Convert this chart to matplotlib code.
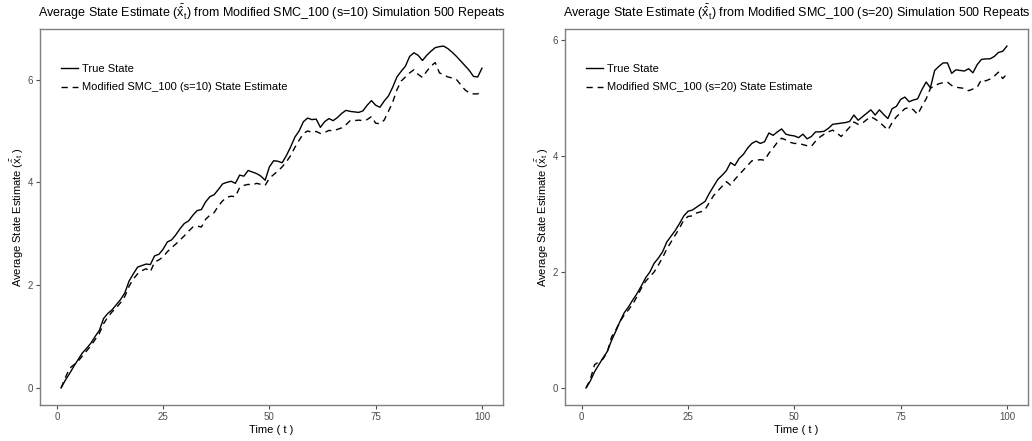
import numpy as np
import matplotlib
matplotlib.use('Agg')
from matplotlib import pyplot as plt

plt.rcParams['font.family'] = ['Liberation Sans', 'DejaVu Sans']
plt.rcParams['mathtext.fontset'] = 'custom'
plt.rcParams['mathtext.rm'] = 'Liberation Sans'
plt.rcParams['mathtext.it'] = 'Liberation Sans'

t = list(range(1, 101))

true_s10 = [0.00, 0.15, 0.28, 0.42, 0.55, 0.68, 0.77, 0.87, 1.00, 1.12,
            1.35, 1.45, 1.52, 1.62, 1.72, 1.85, 2.08, 2.22, 2.35, 2.38,
            2.41, 2.40, 2.57, 2.60, 2.70, 2.84, 2.88, 2.98, 3.10, 3.20,
            3.25, 3.36, 3.45, 3.47, 3.62, 3.72, 3.76, 3.86, 3.97, 4.00,
            4.02, 3.98, 4.14, 4.12, 4.23, 4.20, 4.17, 4.12, 4.04, 4.30,
            4.42, 4.41, 4.38, 4.52, 4.69, 4.88, 5.00, 5.18, 5.25, 5.22,
            5.23, 5.07, 5.18, 5.24, 5.20, 5.26, 5.34, 5.40, 5.38, 5.37,
            5.36, 5.39, 5.50, 5.59, 5.50, 5.46, 5.58, 5.68, 5.85, 6.05,
            6.16, 6.26, 6.45, 6.52, 6.47, 6.37, 6.47, 6.55, 6.62, 6.64,
            6.65, 6.60, 6.53, 6.45, 6.36, 6.27, 6.18, 6.06, 6.05, 6.22]

est_s10 = [0.00, 0.20, 0.38, 0.45, 0.52, 0.62, 0.72, 0.82, 0.94, 1.06,
           1.25, 1.38, 1.48, 1.56, 1.66, 1.78, 1.98, 2.12, 2.22, 2.28,
           2.32, 2.26, 2.45, 2.49, 2.55, 2.65, 2.73, 2.80, 2.88, 2.96,
           3.05, 3.13, 3.15, 3.13, 3.28, 3.36, 3.41, 3.54, 3.64, 3.71,
           3.73, 3.72, 3.90, 3.94, 3.96, 3.95, 3.98, 3.96, 3.94, 4.08,
           4.15, 4.22, 4.30, 4.40, 4.52, 4.68, 4.82, 4.95, 5.00, 4.97,
           4.99, 4.95, 4.97, 5.01, 5.00, 5.03, 5.06, 5.12, 5.20, 5.20,
           5.21, 5.20, 5.22, 5.28, 5.15, 5.14, 5.21, 5.38, 5.56, 5.80,
           5.97, 6.05, 6.13, 6.19, 6.10, 6.04, 6.16, 6.26, 6.33, 6.13,
           6.09, 6.05, 6.03, 6.00, 5.90, 5.80, 5.74, 5.72, 5.72, 5.78]

true_s20 = [0.00, 0.12, 0.28, 0.40, 0.52, 0.63, 0.82, 0.98, 1.15, 1.30,
            1.40, 1.52, 1.63, 1.76, 1.90, 2.00, 2.15, 2.24, 2.35, 2.52,
            2.62, 2.72, 2.84, 2.97, 3.05, 3.07, 3.12, 3.17, 3.22, 3.36,
            3.48, 3.60, 3.67, 3.75, 3.89, 3.84, 3.96, 4.03, 4.14, 4.22,
            4.26, 4.22, 4.25, 4.40, 4.36, 4.42, 4.47, 4.38, 4.36, 4.35,
            4.32, 4.38, 4.30, 4.34, 4.42, 4.42, 4.43, 4.48, 4.55, 4.56,
            4.57, 4.58, 4.60, 4.71, 4.62, 4.68, 4.74, 4.80, 4.71, 4.80,
            4.72, 4.65, 4.82, 4.86, 4.98, 5.02, 4.94, 4.97, 4.99, 5.15,
            5.28, 5.18, 5.48, 5.55, 5.61, 5.61, 5.43, 5.49, 5.48, 5.47,
            5.51, 5.44, 5.58, 5.67, 5.68, 5.68, 5.72, 5.79, 5.81, 5.90]

est_s20 = [0.00, 0.15, 0.40, 0.45, 0.50, 0.62, 0.88, 1.00, 1.15, 1.26,
           1.35, 1.45, 1.58, 1.72, 1.84, 1.92, 2.00, 2.12, 2.25, 2.40,
           2.52, 2.64, 2.76, 2.90, 2.96, 2.97, 3.02, 3.04, 3.08, 3.20,
           3.32, 3.40, 3.48, 3.56, 3.50, 3.60, 3.68, 3.76, 3.84, 3.92,
           3.93, 3.94, 3.93, 4.05, 4.14, 4.24, 4.31, 4.28, 4.24, 4.22,
           4.22, 4.20, 4.18, 4.17, 4.26, 4.33, 4.38, 4.42, 4.45, 4.40,
           4.34, 4.42, 4.50, 4.59, 4.55, 4.57, 4.63, 4.68, 4.64, 4.59,
           4.52, 4.45, 4.58, 4.68, 4.75, 4.82, 4.84, 4.80, 4.72, 4.86,
           4.99, 5.17, 5.22, 5.25, 5.27, 5.28, 5.22, 5.19, 5.18, 5.17,
           5.13, 5.16, 5.19, 5.32, 5.30, 5.33, 5.38, 5.45, 5.34, 5.42]

x_ticks = [0, 25, 50, 75, 100]
y_ticks = [0, 2, 4, 6]

panels = [
    ('s=10', true_s10, est_s10, [0.0388, 0.0816, 0.4486, 0.8526]),
    ('s=20', true_s20, est_s20, [0.5475, 0.0816, 0.4486, 0.8526]),
]

fig = plt.figure(figsize=(10.32, 4.41), dpi=100)

for s, tru, est, rect in panels:
    ax = fig.add_axes(rect)
    ax.plot(t, tru, color='black', lw=1.0, label='True State')
    ax.plot(t, est, color='black', lw=1.0, dashes=(4.5, 3.5),
            label='Modified SMC_100 (' + s + ') State Estimate')
    lo = min(min(tru), min(est))
    hi = max(max(tru), max(est))
    pad = (hi - lo) * 0.05
    ax.set_ylim(lo - pad, hi + pad)
    ax.set_xlim(1 - 4.95, 100 + 4.95)
    ax.set_xticks(x_ticks)
    ax.set_yticks(y_ticks)
    ax.tick_params(labelsize=7, colors='#4d4d4d', length=3, width=0.8, pad=2)
    for sp in ax.spines.values():
        sp.set_color('#7f7f7f')
        sp.set_linewidth(1.0)
    ax.set_title(r'Average State Estimate ($\bar{\hat{x}}_t$) from Modified SMC_100 (' + s + ') Simulation 500 Repeats',
                 fontsize=9, pad=9)
    ax.set_xlabel('Time ( t )', fontsize=8, labelpad=2)
    ax.set_ylabel(r'Average State Estimate ($\bar{\hat{x}}_t$ )', fontsize=8, labelpad=1)
    ax.legend(loc='upper left', bbox_to_anchor=(0.035, 0.92), frameon=False,
              fontsize=8, handlelength=1.6, handletextpad=0.3, labelspacing=0.8,
              borderaxespad=0)

fig.savefig('out.png', dpi=100)
